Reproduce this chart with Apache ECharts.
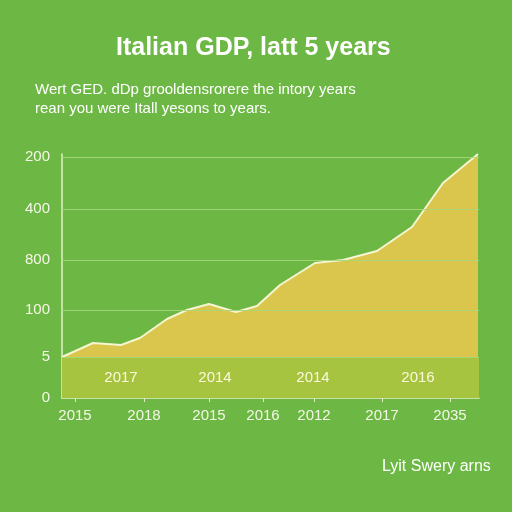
<!DOCTYPE html>
<html><head><meta charset="utf-8">
<script src="https://cdn.jsdelivr.net/npm/echarts@6/dist/echarts.min.js"></script>
<style>html,body{margin:0;padding:0;background:#6db844;}#c{width:512px;height:512px;}</style>
</head><body><div id="c"></div>
<script>
// Curve points: x position along the time axis, y value in axis units
const curveX = [0, 31, 59, 78, 105, 125, 147, 174, 195, 218, 253, 281, 315, 350, 381, 416];
const curveY = [41, 55, 53, 60, 79, 88, 94, 86, 92, 113, 135, 138, 147, 171, 215, 244];
// Y axis tick positions and their labels
const yTickValues = [0, 41, 88, 138, 189, 241];
const yTickLabels = ['0', '5', '100', '800', '400', '200'];
// X axis tick positions and labels
const xTickValues = [13, 82, 147, 201, 252, 320, 388];
const xTickLabels = ['2015', '2018', '2015', '2016', '2012', '2017', '2035'];
// Labels inside the lower band
const bandX = [59, 153, 251, 356];
const bandLabels = ['2017', '2014', '2014', '2016'];
const bandTop = 41;

const chart = echarts.init(document.getElementById('c'));
const txt = '#f4f7e6';
chart.setOption({
  backgroundColor: '#6db844',
  animation: false,
  title: [
    {text: 'Italian GDP, latt 5 years', left: 111, top: 31,
     textStyle: {color: '#ffffff', fontSize: 25, fontWeight: 'bold', fontFamily: 'Liberation Sans'}},
    {text: 'Wert GED. dDp grooldensrorere the intory years\nrean you were Itall yesons to years.',
     left: 30, top: 75,
     textStyle: {color: '#ffffff', fontSize: 15, fontWeight: 'normal', lineHeight: 19, fontFamily: 'Liberation Sans'}},
    {text: 'Lyit Swery arns', left: 377, top: 454,
     textStyle: {color: '#ffffff', fontSize: 16, fontWeight: 'normal', fontFamily: 'Liberation Sans'}}
  ],
  grid: {left: 62, right: 33, top: 154, bottom: 114, containLabel: false},
  xAxis: {
    type: 'value', min: 0, max: 417,
    axisLine: {show: true, lineStyle: {color: '#e4f0c4', width: 1.5}},
    axisTick: {show: true, customValues: xTickValues, length: 4, lineStyle: {color: '#e4f0c4'}},
    axisLabel: {customValues: xTickValues, color: txt, fontSize: 15, margin: 10, fontFamily: 'Liberation Sans',
      formatter: v => xTickLabels[xTickValues.indexOf(v)]},
    splitLine: {show: false}
  },
  yAxis: {
    type: 'value', min: 0, max: 244,
    axisLine: {show: true, lineStyle: {color: '#e4f0c4', width: 1.5}},
    axisTick: {show: false, customValues: yTickValues},
    axisLabel: {customValues: yTickValues, color: txt, fontSize: 15, margin: 12, fontFamily: 'Liberation Sans',
      formatter: v => yTickLabels[yTickValues.indexOf(v)]},
    splitLine: {show: false}
  },
  series: [
    {
      type: 'line',
      data: curveX.map((x, i) => [x, curveY[i]]),
      symbol: 'none',
      lineStyle: {color: '#f6f5d2', width: 2},
      areaStyle: {color: '#dac64c', opacity: 1, origin: bandTop},
      z: 3,
      markArea: {
        silent: true,
        itemStyle: {color: '#a7c440', opacity: 1},
        data: [[{xAxis: 0, yAxis: 0}, {xAxis: 417, yAxis: bandTop}]]
      },
      markLine: {
        silent: true, symbol: 'none',
        label: {show: false},
        lineStyle: {color: '#a6d77a', width: 1.2, type: 'solid', opacity: 0.9},
        data: yTickValues.slice(1).map(v => ({yAxis: v}))
      }
    },
    {
      type: 'scatter',
      symbolSize: 0,
      itemStyle: {opacity: 1},
      data: bandX.map((x, i) => [x, bandTop / 2, bandLabels[i]]),
      label: {show: true, position: 'inside', formatter: p => p.data[2], color: '#fbf8dc', opacity: 1, fontSize: 15, fontFamily: 'Liberation Sans'},
      z: 5
    }
  ]
});
</script></body></html>
